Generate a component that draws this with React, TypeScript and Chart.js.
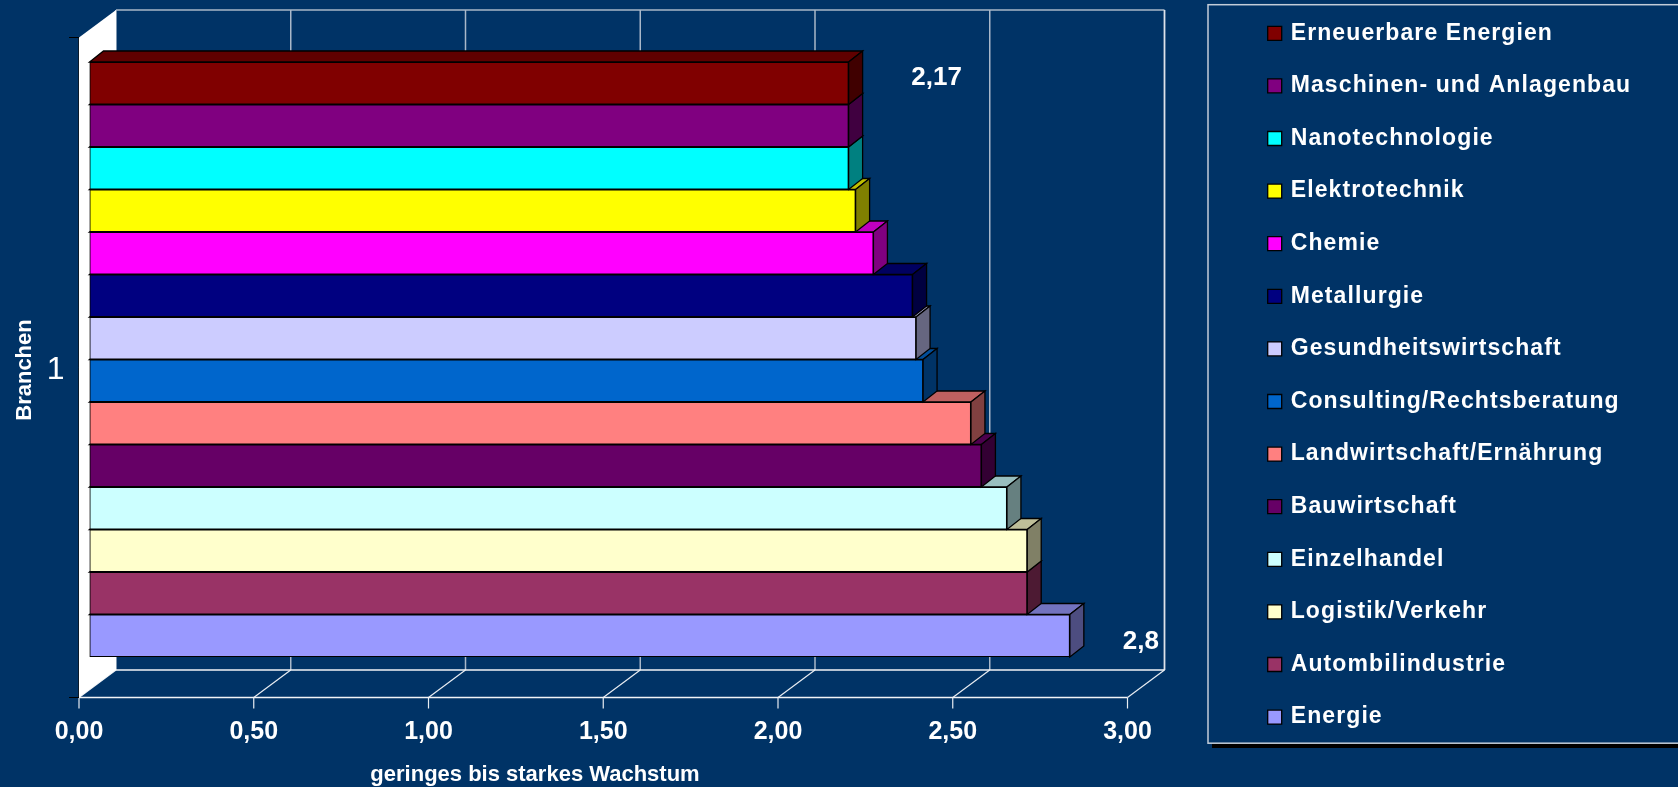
import React, { useEffect, useRef } from "react";
import { Chart, registerables } from "chart.js";

Chart.register(...registerables);

const categoryLabels = ["1"];
const seriesNames = [
  "Erneuerbare Energien",
  "Maschinen- und Anlagenbau",
  "Nanotechnologie",
  "Elektrotechnik",
  "Chemie",
  "Metallurgie",
  "Gesundheitswirtschaft",
  "Consulting/Rechtsberatung",
  "Landwirtschaft/Ernährung",
  "Bauwirtschaft",
  "Einzelhandel",
  "Logistik/Verkehr",
  "Autombilindustrie",
  "Energie",
];
const seriesValues = [2.172, 2.172, 2.172, 2.192, 2.243, 2.355, 2.365, 2.385, 2.522, 2.552, 2.625, 2.683, 2.683, 2.805];
const seriesColors = [
  "#800000", "#800080", "#00FFFF", "#FFFF00", "#FF00FF", "#000080", "#CCCCFF",
  "#0066CC", "#FF8080", "#660066", "#CCFFFF", "#FFFFCC", "#993366", "#9999FF",
];
const valueLabels: { name: string; text: string; dx: number; dy: number }[] = [
  { name: "Erneuerbare Energien", text: "2,17", dx: 88, dy: -5 },
  { name: "Energie", text: "2,8", dx: 71, dy: 6 },
];
const xTitle = "geringes bis starkes Wachstum";
const yTitle = "Branchen";

const FONT = '"Liberation Sans", Arial, sans-serif';
const BG = "#003366";
const GRID = "#A9B8C9";
const DEPTH_X = 14;
const DEPTH_Y = 11;
// distance between the bars' zero and the front edge of the floor
const FRONT_SHIFT = 10.5;
const WALL_DX = 37;
const WALL_DY = 27.5;
const FLOOR_Y = 697.5;
const WALL_TOP_FRONT = 37.5;

function shade(hex: string, f: number) {
  const n = parseInt(hex.slice(1), 16);
  const c = (s: number) => Math.round(((n >> s) & 255) * f);
  return `rgb(${c(16)},${c(8)},${c(0)})`;
}

function line(ctx: CanvasRenderingContext2D, x1: number, y1: number, x2: number, y2: number, color: string, w: number) {
  ctx.strokeStyle = color;
  ctx.lineWidth = w;
  ctx.beginPath();
  ctx.moveTo(x1, y1);
  ctx.lineTo(x2, y2);
  ctx.stroke();
}

function poly(ctx: CanvasRenderingContext2D, pts: number[][], fill: string) {
  ctx.beginPath();
  pts.forEach(([x, y], i) => (i ? ctx.lineTo(x, y) : ctx.moveTo(x, y)));
  ctx.closePath();
  ctx.fillStyle = fill;
  ctx.fill();
}

const scenePlugin = {
  id: "scene3d",
  beforeLayout(chart: any) {
    const lg = chart.legend;
    if (!lg || lg.__patched) return;
    lg.__patched = true;
    const fit = lg.fit.bind(lg);
    lg.fit = function () {
      this.maxHeight = 800;
      fit();
      this.width = 540;
    };
    const draw = lg.draw.bind(lg);
    lg.draw = function () {
      const ctx = chart.ctx;
      ctx.save();
      ctx.letterSpacing = "1.1px";
      // the legend's text sits closer to its swatch than the library's default gap
      const fillText = ctx.fillText;
      ctx.fillText = (s: string, x: number, y: number) => fillText.call(ctx, s, x - 2.5, y);
      draw();
      delete ctx.fillText;
      ctx.restore();
    };
  },
  afterLayout(chart: any) {
    const lg = chart.legend;
    lg.left = 1238.1;
    lg.right = 1678;
    lg.top = -7.8;
    lg.bottom = 787;
  },
  beforeDraw(chart: any) {
    const ctx: CanvasRenderingContext2D = chart.ctx;
    const xs = chart.scales.x;
    const front = (v: number) => xs.getPixelForValue(v) - FRONT_SHIFT;
    const x0 = front(0);
    const x3 = front(3);
    const backTop = WALL_TOP_FRONT - WALL_DY;
    const backBottom = FLOOR_Y - WALL_DY;
    ctx.save();
    // legend frame and its shadow
    ctx.fillStyle = "#000";
    ctx.fillRect(1212, 743, 470, 5);
    ctx.strokeStyle = "#C3CDD9";
    ctx.lineWidth = 1.5;
    ctx.strokeRect(1208, 4.7, 480, 738.5);
    // back wall grid
    line(ctx, x0 + WALL_DX, backTop, x3 + WALL_DX, backTop, GRID, 1.5);
    xs.ticks.forEach((t: any) => {
      const x = front(t.value);
      line(ctx, x + WALL_DX, backTop, x + WALL_DX, backBottom, GRID, 1.5);
      line(ctx, x, FLOOR_Y, x + WALL_DX, backBottom, "#E8EDF2", 1.2);
      line(ctx, x, FLOOR_Y, x, FLOOR_Y + 11, "#E8EDF2", 1.2);
    });
    line(ctx, x3 + WALL_DX, backTop, x3 + WALL_DX, backBottom, "#DDE3EA", 1.5);
    line(ctx, x0 + WALL_DX, backBottom, x3 + WALL_DX, backBottom, "#F2F4F7", 1.5);
    line(ctx, x0, FLOOR_Y, x3, FLOOR_Y, "#F2F4F7", 1.5);
    // white side wall
    poly(ctx, [[x0, WALL_TOP_FRONT], [x0 + WALL_DX, backTop], [x0 + WALL_DX, backBottom], [x0, FLOOR_Y]], "#FFFFFF");
    line(ctx, x0 - 0.5, WALL_TOP_FRONT, x0 - 0.5, FLOOR_Y, "#0A1A2A", 1);
    line(ctx, x0 - 10, WALL_TOP_FRONT, x0, WALL_TOP_FRONT, "#000", 1);
    line(ctx, x0 - 10, FLOOR_Y, x0, FLOOR_Y, "#000", 1);
    ctx.restore();
  },
  beforeDatasetDraw(chart: any, args: any) {
    const ctx: CanvasRenderingContext2D = chart.ctx;
    const bar = args.meta.data[0];
    const color = seriesColors[args.index];
    const { x, base, y, height } = bar;
    const t = y - height / 2;
    const b = y + height / 2;
    ctx.save();
    ctx.lineJoin = "miter";
    const top = [[base, t], [x, t], [x + DEPTH_X, t - DEPTH_Y], [base + DEPTH_X, t - DEPTH_Y]];
    const side = [[x, t], [x + DEPTH_X, t - DEPTH_Y], [x + DEPTH_X, b - DEPTH_Y], [x, b]];
    poly(ctx, top, shade(color, 0.75));
    ctx.strokeStyle = "#000";
    ctx.lineWidth = 1.3;
    ctx.stroke();
    poly(ctx, side, shade(color, 0.5));
    ctx.stroke();
    ctx.restore();
  },
  afterDraw(chart: any) {
    const ctx: CanvasRenderingContext2D = chart.ctx;
    ctx.save();
    ctx.fillStyle = "#FFFFFF";
    ctx.textAlign = "center";
    ctx.textBaseline = "middle";
    ctx.font = `bold 26px ${FONT}`;
    valueLabels.forEach((l) => {
      const i = seriesNames.indexOf(l.name);
      const bar = chart.getDatasetMeta(i).data[0];
      ctx.fillText(l.text, bar.x + l.dx, bar.y + l.dy);
    });
    ctx.font = `bold 22px ${FONT}`;
    ctx.fillText(xTitle, 535, 775);
    ctx.translate(25, 370);
    ctx.rotate(-Math.PI / 2);
    ctx.fillText(yTitle, 0, 0);
    ctx.restore();
  },
};

export default function App() {
  const ref = useRef<HTMLCanvasElement>(null);
  useEffect(() => {
    const chart = new Chart(ref.current as HTMLCanvasElement, {
      type: "bar",
      data: {
        labels: categoryLabels,
        datasets: seriesNames.map((name, i) => ({
          label: name,
          data: [seriesValues[i]],
          backgroundColor: seriesColors[i],
          borderColor: "#000000",
          borderWidth: 1.3,
          borderSkipped: false,
          categoryPercentage: 1,
          barPercentage: 1,
        })),
      },
      options: {
        indexAxis: "y",
        responsive: false,
        animation: false,
        devicePixelRatio: 1,
        events: [],
        layout: { padding: { top: 62, left: 0, right: 0, bottom: 0 } },
        scales: {
          x: {
            type: "linear",
            min: 0,
            max: 3,
            afterFit: (s: any) => {
              s.height = 130;
            },
            grid: { display: false, drawTicks: false },
            border: { display: false },
            ticks: {
              stepSize: 0.5,
              maxRotation: 0,
              padding: 60.5,
              labelOffset: -FRONT_SHIFT,
              color: "#FFFFFF",
              font: { family: FONT, size: 25, weight: "bold" },
              callback: (v: any) => Number(v).toFixed(2).replace(".", ","),
            },
          },
          y: {
            type: "category",
            afterFit: (s: any) => {
              s.width = 89.5;
            },
            grid: { display: false, drawTicks: false },
            border: { display: false },
            ticks: {
              padding: 25,
              labelOffset: 10.5,
              color: "#FFFFFF",
              font: { family: FONT, size: 32 },
            },
          },
        },
        plugins: {
          tooltip: { enabled: false },
          title: { display: false },
          legend: {
            display: true,
            position: "right",
            align: "start",
            labels: {
              boxWidth: 14,
              boxHeight: 14,
              padding: 29.6,
              color: "#FFFFFF",
              font: { family: FONT, size: 23, weight: "bold" },
            },
          },
        },
      },
      plugins: [scenePlugin],
    } as any);
    return () => chart.destroy();
  }, []);
  return (
    <div style={{ position: "fixed", left: 0, top: 0, width: 1678, height: 787, background: BG, overflow: "hidden" }}>
      <canvas ref={ref} width={1678} height={787} style={{ display: "block" }} />
    </div>
  );
}
